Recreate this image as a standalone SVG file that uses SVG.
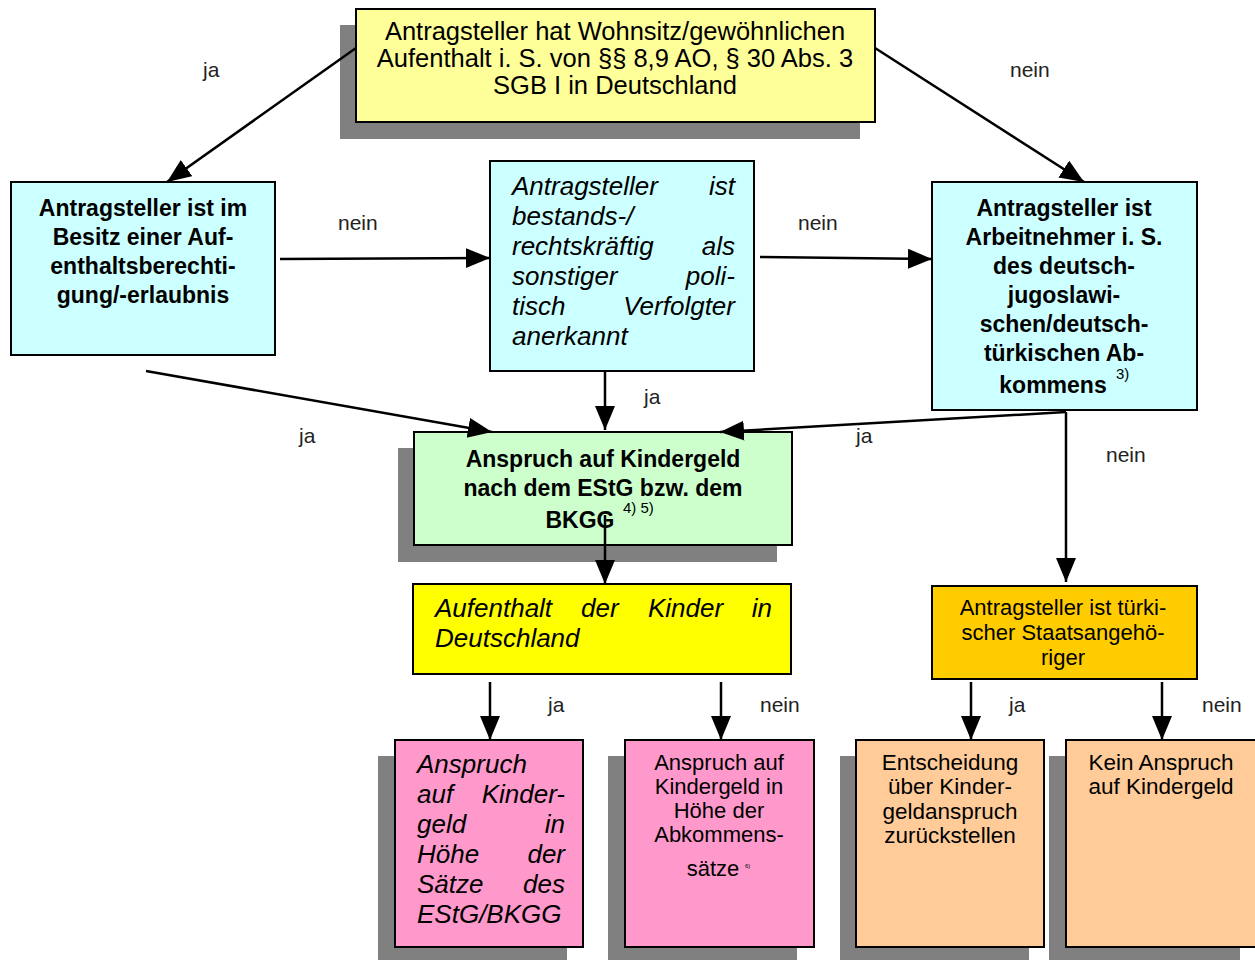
<svg xmlns="http://www.w3.org/2000/svg" width="1255" height="960" viewBox="0 0 1255 960">
<defs>
<marker id="ah" markerUnits="userSpaceOnUse" markerWidth="26" markerHeight="22" refX="24" refY="10" orient="auto">
<path d="M0,0 L24,10 L0,20 Z" fill="#000"/>
</marker>
<style>
.box{stroke:#000;stroke-width:2}
.sh{fill:#808080}
.t{font-family:"Liberation Sans",Arial,sans-serif;fill:#000}
.b{font-size:23px;font-weight:bold}
.i{font-size:26px;font-style:italic}
.lbl{font-family:"Liberation Sans",Arial,sans-serif;font-size:21px;fill:#222}
.c{stroke:#000;stroke-width:2.5;fill:none;marker-end:url(#ah)}
</style>
</defs>
<rect width="1255" height="960" fill="#fff"/>

<g id="n-top">
<rect class="sh" x="340" y="25" width="520" height="114"/>
<rect class="box" x="356" y="9" width="519" height="113" fill="#FFFF99"/>
<text class="t" font-size="25.5" text-anchor="middle"><tspan x="615" y="40">Antragsteller hat Wohnsitz/gewöhnlichen</tspan><tspan x="615" y="67">Aufenthalt i. S. von §§ 8,9 AO, § 30 Abs. 3</tspan><tspan x="615" y="94">SGB I in Deutschland</tspan></text>
</g>

<g id="n-left">
<rect class="box" x="11" y="182" width="264" height="173" fill="#CCFFFF"/>
<text class="t b" text-anchor="middle"><tspan x="143" y="216">Antragsteller ist im</tspan><tspan x="143" y="245">Besitz einer Auf-</tspan><tspan x="143" y="274">enthaltsberechti-</tspan><tspan x="143" y="303">gung/-erlaubnis</tspan></text>
</g>

<g id="n-mid">
<rect class="box" x="490" y="161" width="264" height="210" fill="#CCFFFF"/>
<g class="t i">
<text x="512" y="195">Antragsteller</text><text x="735" y="195" text-anchor="end">ist</text>
<text x="512" y="225">bestands-/</text>
<text x="512" y="255">rechtskräftig</text><text x="735" y="255" text-anchor="end">als</text>
<text x="512" y="285">sonstiger</text><text x="735" y="285" text-anchor="end">poli-</text>
<text x="512" y="315">tisch</text><text x="735" y="315" text-anchor="end">Verfolgter</text>
<text x="512" y="345">anerkannt</text>
</g>
</g>

<g id="n-right">
<rect class="box" x="932" y="182" width="265" height="228" fill="#CCFFFF"/>
<text class="t b" text-anchor="middle"><tspan x="1064" y="216">Antragsteller ist</tspan><tspan x="1064" y="245">Arbeitnehmer i. S.</tspan><tspan x="1064" y="274">des deutsch-</tspan><tspan x="1064" y="303">jugoslawi-</tspan><tspan x="1064" y="332">schen/deutsch-</tspan><tspan x="1064" y="361">türkischen Ab-</tspan><tspan x="1053" y="393">kommens</tspan></text>
<text class="t" x="1116" y="379" font-size="15">3)</text>
</g>

<g id="n-green">
<rect class="sh" x="398" y="448" width="379" height="114"/>
<rect class="box" x="414" y="432" width="378" height="113" fill="#CCFFCC"/>
<text class="t b" text-anchor="middle"><tspan x="603" y="467">Anspruch auf Kindergeld</tspan><tspan x="603" y="496">nach dem EStG bzw. dem</tspan><tspan x="580" y="528">BKGG</tspan></text>
<text class="t" x="623" y="513" font-size="15">4) 5)</text>
</g>

<g id="n-yellow">
<rect class="box" x="413" y="584" width="378" height="90" fill="#FFFF00"/>
<g class="t i">
<text x="435" y="617">Aufenthalt</text><text x="581" y="617">der</text><text x="648" y="617">Kinder</text><text x="772" y="617" text-anchor="end">in</text>
<text x="435" y="647">Deutschland</text>
</g>
</g>

<g id="n-orange">
<rect class="box" x="932" y="586" width="265" height="93" fill="#FFCC00"/>
<text class="t" font-size="22" text-anchor="middle"><tspan x="1063" y="615">Antragsteller ist türki-</tspan><tspan x="1063" y="640">scher Staatsangehö-</tspan><tspan x="1063" y="665">riger</tspan></text>
</g>

<g id="n-pink1">
<rect class="sh" x="378" y="756" width="189" height="204"/>
<rect class="box" x="395" y="740" width="188" height="207" fill="#FF99CC"/>
<g class="t i">
<text x="417" y="773">Anspruch</text>
<text x="417" y="803">auf</text><text x="565" y="803" text-anchor="end">Kinder-</text>
<text x="417" y="833">geld</text><text x="565" y="833" text-anchor="end">in</text>
<text x="417" y="863">Höhe</text><text x="565" y="863" text-anchor="end">der</text>
<text x="417" y="893">Sätze</text><text x="565" y="893" text-anchor="end">des</text>
<text x="417" y="923">EStG/BKGG</text>
</g>
</g>

<g id="n-pink2">
<rect class="sh" x="608" y="756" width="189" height="204"/>
<rect class="box" x="625" y="740" width="189" height="207" fill="#FF99CC"/>
<text class="t" font-size="22" text-anchor="middle"><tspan x="719" y="770">Anspruch auf</tspan><tspan x="719" y="794">Kindergeld in</tspan><tspan x="719" y="818">Höhe der</tspan><tspan x="719" y="842">Abkommens-</tspan><tspan x="713" y="876">sätze</tspan></text>
<text class="t" x="745" y="868" font-size="6">6)</text>
</g>

<g id="n-peach1">
<rect class="sh" x="840" y="756" width="189" height="204"/>
<rect class="box" x="856" y="740" width="188" height="207" fill="#FFCC99"/>
<text class="t" font-size="22.5" text-anchor="middle"><tspan x="950" y="770">Entscheidung</tspan><tspan x="950" y="794">über Kinder-</tspan><tspan x="950" y="819">geldanspruch</tspan><tspan x="950" y="843">zurückstellen</tspan></text>
</g>

<g id="n-peach2">
<rect class="sh" x="1049" y="756" width="191" height="204"/>
<rect class="box" x="1066" y="740" width="195" height="207" fill="#FFCC99"/>
<text class="t" font-size="22.5" text-anchor="middle"><tspan x="1161" y="770">Kein Anspruch</tspan><tspan x="1161" y="794">auf Kindergeld</tspan></text>
</g>

<g id="connectors">
<line class="c" x1="356" y1="48" x2="167" y2="182"/>
<line class="c" x1="875" y1="48" x2="1084" y2="182"/>
<line class="c" x1="280" y1="259" x2="490" y2="258"/>
<line class="c" x1="760" y1="257" x2="932" y2="259"/>
<line class="c" x1="605" y1="372" x2="605" y2="430"/>
<line class="c" x1="146" y1="371" x2="492" y2="432"/>
<line class="c" x1="1066" y1="412" x2="720" y2="432"/>
<line class="c" x1="1066" y1="412" x2="1066" y2="582"/>
<line class="c" x1="605" y1="515" x2="605" y2="584"/>
<line class="c" x1="490" y1="682" x2="490" y2="740"/>
<line class="c" x1="721" y1="682" x2="721" y2="740"/>
<line class="c" x1="971" y1="682" x2="971" y2="740"/>
<line class="c" x1="1162" y1="682" x2="1162" y2="740"/>
</g>

<g id="labels">
<text class="lbl" x="203" y="77">ja</text>
<text class="lbl" x="1010" y="77">nein</text>
<text class="lbl" x="338" y="230">nein</text>
<text class="lbl" x="798" y="230">nein</text>
<text class="lbl" x="644" y="404">ja</text>
<text class="lbl" x="299" y="443">ja</text>
<text class="lbl" x="856" y="443">ja</text>
<text class="lbl" x="1106" y="462">nein</text>
<text class="lbl" x="548" y="712">ja</text>
<text class="lbl" x="760" y="712">nein</text>
<text class="lbl" x="1009" y="712">ja</text>
<text class="lbl" x="1202" y="712">nein</text>
</g>
</svg>
